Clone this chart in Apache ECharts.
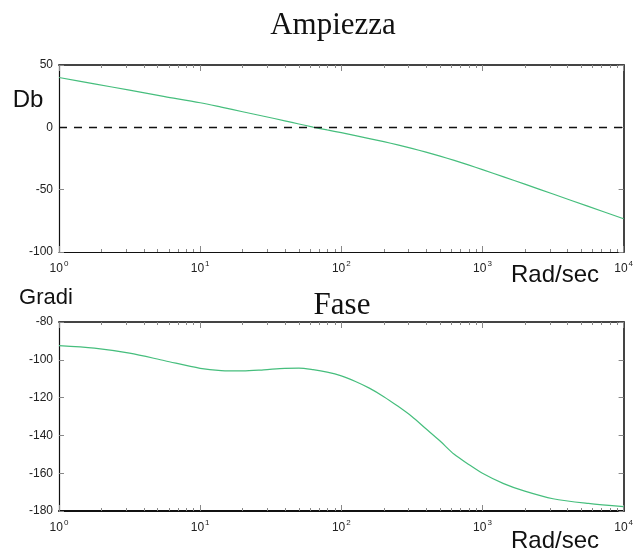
<!DOCTYPE html>
<html>
<head>
<meta charset="utf-8">
<script src="https://cdn.jsdelivr.net/npm/echarts@6/dist/echarts.min.js"></script>
<style>
  html, body { margin: 0; padding: 0; background: #fff; }
  #chart { width: 636px; height: 556px; }
</style>
</head>
<body>
<div id="chart"></div>
<script>
// Frequencies (rad/sec) at which the Bode curves are sampled
const freq = [1, 1.78, 3.16, 5.62, 10, 14.1, 20, 28.2, 39.8, 50.1, 63.1, 79.4, 100, 126, 158, 200, 251, 316, 398, 501, 631, 794, 1000, 1413, 1995, 3162, 5623, 10000];
// Magnitude (dB)
const magnitude = [40, 34.9, 29.8, 24.7, 19.7, 16.2, 12.5, 8.9, 5.2, 2.7, 0.2, -2.1, -4.3, -6.6, -9.0, -11.5, -14.1, -16.9, -19.9, -23.1, -26.5, -30.1, -33.9, -39.7, -45.6, -53.5, -63.4, -73.3];
// Phase (degrees)
const phase = [-92.5, -93.8, -96.5, -100.5, -104.5, -105.7, -105.9, -105.3, -104.5, -104.4, -105.2, -106.5, -108.5, -111.5, -115, -119.5, -124.5, -130, -136.5, -143, -150, -155.2, -160, -165.5, -169.5, -173.5, -176, -177.7];

// Tick values
const minorFreq = [];
for (const d of [1, 10, 100, 1000]) for (let k = 2; k <= 9; k++) minorFreq.push(k * d);
const magTicks = { min: -100, max: 50, step: 50 };
const phaseTicks = { min: -180, max: -80, step: 20 };

const lineColor = '#46be7d';
const sans = '"Liberation Sans", Arial, sans-serif';
const serif = '"Liberation Serif", "Times New Roman", serif';

function pairs(values) { return freq.map((f, i) => [f, values[i]]); }

function xAxes(gridIndex) {
  const base = { type: 'log', logBase: 10, min: 1, max: 10000, gridIndex: gridIndex, splitLine: { show: false } };
  return [
    Object.assign({}, base, {
      position: 'bottom',
      axisLine: { onZero: false, lineStyle: { color: '#111', width: gridIndex === 1 ? 2 : 1.2 } },
      axisTick: { inside: true, length: 6, lineStyle: { color: '#888' } },
      axisLabel: {
        margin: 8,
        formatter: v => '{b|10}{s|' + Math.round(Math.log10(v)) + '}',
        rich: {
          b: { fontFamily: sans, fontSize: 12, color: '#222' },
          s: { fontFamily: sans, fontSize: 8, color: '#222', padding: [0, 0, 9, 1] }
        }
      }
    }),
    Object.assign({}, base, {
      position: 'bottom',
      axisLine: { show: false, onZero: false },
      axisTick: { inside: true, length: 3, customValues: minorFreq, lineStyle: { color: '#888' } },
      axisLabel: { show: false }
    }),
    Object.assign({}, base, {
      position: 'top',
      axisLine: { onZero: false, lineStyle: { color: '#444', width: 2 } },
      axisTick: { inside: true, length: 6, lineStyle: { color: '#888' } },
      axisLabel: { show: false }
    }),
    Object.assign({}, base, {
      position: 'top',
      axisLine: { show: false, onZero: false },
      axisTick: { inside: true, length: 3, customValues: minorFreq, lineStyle: { color: '#888' } },
      axisLabel: { show: false }
    })
  ];
}

function yAxes(gridIndex, t) {
  const base = { type: 'value', gridIndex: gridIndex, min: t.min, max: t.max, interval: t.step, splitLine: { show: false } };
  return [
    Object.assign({}, base, {
      position: 'left',
      axisLine: { show: true, onZero: false, lineStyle: { color: '#111', width: 1.2 } },
      axisTick: { show: true, inside: true, length: 5, lineStyle: { color: '#888' } },
      axisLabel: { fontFamily: sans, fontSize: 12, color: '#222', margin: 6 }
    }),
    Object.assign({}, base, {
      position: 'right',
      axisLine: { show: true, onZero: false, lineStyle: { color: '#444', width: 2 } },
      axisTick: { show: true, inside: true, length: 5, lineStyle: { color: '#888' } },
      axisLabel: { show: false }
    })
  ];
}

function txt(text, x, y, font) {
  return { type: 'text', style: { text: text, x: x, y: y, font: font, fill: '#111', align: 'center', verticalAlign: 'middle' } };
}

const chart = echarts.init(document.getElementById('chart'), null, { renderer: 'canvas' });
chart.setOption({
  animation: false,
  backgroundColor: '#fff',
  grid: [
    { left: 59, top: 65, width: 567, height: 187 },
    { left: 59, top: 322, width: 567, height: 189 }
  ],
  xAxis: xAxes(0).concat(xAxes(1)),
  yAxis: yAxes(0, magTicks).concat(yAxes(1, phaseTicks)),
  series: [
    {
      type: 'line', xAxisIndex: 0, yAxisIndex: 0, data: pairs(magnitude),
      smooth: 0.3, showSymbol: false, lineStyle: { color: lineColor, width: 1.2 },
      markLine: {
        silent: true, symbol: 'none', label: { show: false },
        lineStyle: { color: '#111', type: [8, 7], width: 1.3 },
        data: [{ yAxis: 0 }]
      }
    },
    {
      type: 'line', xAxisIndex: 4, yAxisIndex: 2, data: pairs(phase),
      smooth: 0.3, showSymbol: false, lineStyle: { color: lineColor, width: 1.2 }
    }
  ],
  graphic: [
    txt('Ampiezza', 333, 26, '31px ' + serif),
    txt('Fase', 342, 306, '31px ' + serif),
    txt('Db', 28, 100, '24px ' + sans),
    txt('Gradi', 46, 298, '22px ' + sans),
    txt('Rad/sec', 555, 275, '24px ' + sans),
    txt('Rad/sec', 555, 541, '24px ' + sans)
  ]
});
</script>
</body>
</html>
